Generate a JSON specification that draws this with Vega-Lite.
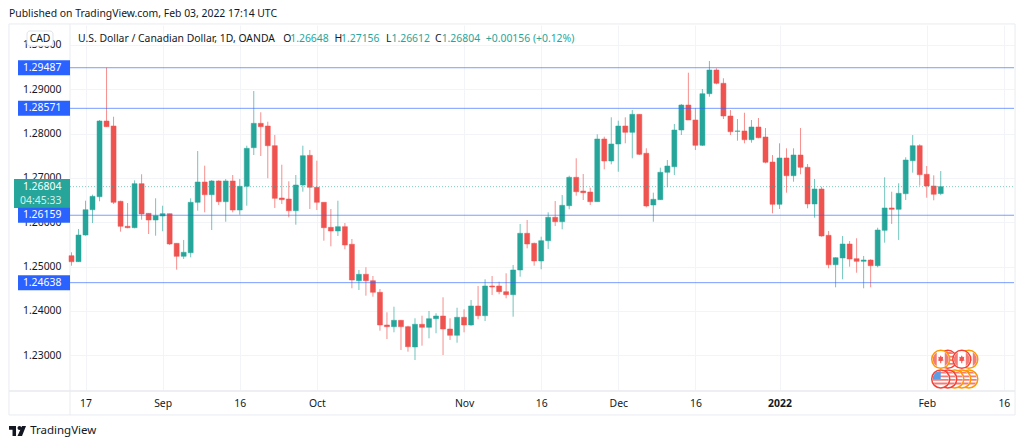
{"$schema":"https://vega.github.io/schema/vega-lite/v6.json","autosize":{"type":"none"},"width":944,"height":366,"padding":{"left":70,"top":25,"right":10,"bottom":56},"background":"white",
"config":{"axis":{"title":null},"view":{"stroke":null},"text":{"font":"Noto Sans","fontSize":10.4,"baseline":"middle","align":"left","color":"#131722"}},
"data":{"name":"candles","values":[
{"i":0,"date":"2021-08-13","o":1.25246,"h":1.25323,"l":1.25021,"c":1.25111},
{"i":1,"date":"2021-08-16","o":1.25111,"h":1.25849,"l":1.25104,"c":1.25713},
{"i":2,"date":"2021-08-17","o":1.25713,"h":1.26487,"l":1.25698,"c":1.26284},
{"i":3,"date":"2021-08-18","o":1.26284,"h":1.26623,"l":1.25984,"c":1.26586},
{"i":4,"date":"2021-08-19","o":1.26577,"h":1.28308,"l":1.26474,"c":1.28285},
{"i":5,"date":"2021-08-20","o":1.28285,"h":1.29488,"l":1.2815,"c":1.28157},
{"i":6,"date":"2021-08-23","o":1.28172,"h":1.28382,"l":1.26413,"c":1.26451},
{"i":7,"date":"2021-08-24","o":1.26474,"h":1.26487,"l":1.25788,"c":1.2591},
{"i":8,"date":"2021-08-25","o":1.2591,"h":1.26435,"l":1.25865,"c":1.25878},
{"i":9,"date":"2021-08-26","o":1.25878,"h":1.26947,"l":1.25865,"c":1.26871},
{"i":10,"date":"2021-08-27","o":1.26871,"h":1.27083,"l":1.26059,"c":1.26187},
{"i":11,"date":"2021-08-30","o":1.26203,"h":1.26203,"l":1.25736,"c":1.26052},
{"i":12,"date":"2021-08-31","o":1.26052,"h":1.26541,"l":1.25698,"c":1.26149},
{"i":13,"date":"2021-09-01","o":1.26142,"h":1.26374,"l":1.25797,"c":1.26194},
{"i":14,"date":"2021-09-02","o":1.26194,"h":1.26194,"l":1.25488,"c":1.2551},
{"i":15,"date":"2021-09-03","o":1.25526,"h":1.25526,"l":1.24931,"c":1.25233},
{"i":16,"date":"2021-09-06","o":1.25233,"h":1.25601,"l":1.25172,"c":1.25323},
{"i":17,"date":"2021-09-07","o":1.25314,"h":1.26541,"l":1.2521,"c":1.26451},
{"i":18,"date":"2021-09-08","o":1.26451,"h":1.27608,"l":1.26262,"c":1.26909},
{"i":19,"date":"2021-09-09","o":1.26909,"h":1.27277,"l":1.26225,"c":1.26623},
{"i":20,"date":"2021-09-10","o":1.26623,"h":1.26954,"l":1.25826,"c":1.26932},
{"i":21,"date":"2021-09-13","o":1.26932,"h":1.26947,"l":1.2639,"c":1.26465},
{"i":22,"date":"2021-09-14","o":1.26465,"h":1.26977,"l":1.26013,"c":1.26932},
{"i":23,"date":"2021-09-15","o":1.26932,"h":1.27067,"l":1.26225,"c":1.26277},
{"i":24,"date":"2021-09-16","o":1.26277,"h":1.26977,"l":1.26171,"c":1.26812},
{"i":25,"date":"2021-09-17","o":1.26812,"h":1.27728,"l":1.26374,"c":1.27669},
{"i":26,"date":"2021-09-20","o":1.27683,"h":1.28962,"l":1.27518,"c":1.28233},
{"i":27,"date":"2021-09-21","o":1.28233,"h":1.28482,"l":1.27496,"c":1.28157},
{"i":28,"date":"2021-09-22","o":1.28172,"h":1.28269,"l":1.26993,"c":1.27728},
{"i":29,"date":"2021-09-23","o":1.27728,"h":1.27969,"l":1.26323,"c":1.26541},
{"i":30,"date":"2021-09-24","o":1.26548,"h":1.27299,"l":1.26413,"c":1.2651},
{"i":31,"date":"2021-09-27","o":1.26526,"h":1.26925,"l":1.26113,"c":1.26262},
{"i":32,"date":"2021-09-28","o":1.26262,"h":1.27067,"l":1.25946,"c":1.26841},
{"i":33,"date":"2021-09-29","o":1.26841,"h":1.27728,"l":1.2669,"c":1.27502},
{"i":34,"date":"2021-09-30","o":1.27511,"h":1.27631,"l":1.263,"c":1.2679},
{"i":35,"date":"2021-10-01","o":1.2679,"h":1.2739,"l":1.26277,"c":1.26451},
{"i":36,"date":"2021-10-04","o":1.26451,"h":1.26451,"l":1.25585,"c":1.25878},
{"i":37,"date":"2021-10-05","o":1.25887,"h":1.263,"l":1.25458,"c":1.25804},
{"i":38,"date":"2021-10-06","o":1.25804,"h":1.26487,"l":1.25691,"c":1.25901},
{"i":39,"date":"2021-10-07","o":1.25901,"h":1.25984,"l":1.25391,"c":1.25488},
{"i":40,"date":"2021-10-08","o":1.25504,"h":1.25623,"l":1.24511,"c":1.24698},
{"i":41,"date":"2021-10-11","o":1.24682,"h":1.24924,"l":1.24473,"c":1.24827},
{"i":42,"date":"2021-10-12","o":1.24827,"h":1.24985,"l":1.24344,"c":1.24682},
{"i":43,"date":"2021-10-13","o":1.24682,"h":1.24788,"l":1.24321,"c":1.24421},
{"i":44,"date":"2021-10-14","o":1.24421,"h":1.24495,"l":1.23554,"c":1.23683},
{"i":45,"date":"2021-10-15","o":1.23683,"h":1.23969,"l":1.23367,"c":1.23645},
{"i":46,"date":"2021-10-18","o":1.23645,"h":1.24096,"l":1.23518,"c":1.23789},
{"i":47,"date":"2021-10-19","o":1.23789,"h":1.23796,"l":1.23119,"c":1.23645},
{"i":48,"date":"2021-10-20","o":1.23645,"h":1.23667,"l":1.23081,"c":1.23193},
{"i":49,"date":"2021-10-21","o":1.23187,"h":1.23834,"l":1.22893,"c":1.23699},
{"i":50,"date":"2021-10-22","o":1.23699,"h":1.23893,"l":1.23216,"c":1.23631},
{"i":51,"date":"2021-10-25","o":1.23631,"h":1.23999,"l":1.23383,"c":1.23825},
{"i":52,"date":"2021-10-26","o":1.23825,"h":1.23947,"l":1.23496,"c":1.23886},
{"i":53,"date":"2021-10-27","o":1.23886,"h":1.24308,"l":1.23006,"c":1.23593},
{"i":54,"date":"2021-10-28","o":1.23593,"h":1.23834,"l":1.23345,"c":1.23451},
{"i":55,"date":"2021-10-29","o":1.23451,"h":1.24073,"l":1.23284,"c":1.23857},
{"i":56,"date":"2021-11-01","o":1.23857,"h":1.24037,"l":1.23518,"c":1.23683},
{"i":57,"date":"2021-11-02","o":1.23683,"h":1.24247,"l":1.23667,"c":1.24112},
{"i":58,"date":"2021-11-03","o":1.24112,"h":1.24563,"l":1.23812,"c":1.23893},
{"i":59,"date":"2021-11-04","o":1.23893,"h":1.24714,"l":1.23773,"c":1.24563},
{"i":60,"date":"2021-11-05","o":1.24563,"h":1.24788,"l":1.2436,"c":1.2454},
{"i":61,"date":"2021-11-08","o":1.24563,"h":1.2466,"l":1.24376,"c":1.24434},
{"i":62,"date":"2021-11-09","o":1.24434,"h":1.24849,"l":1.24285,"c":1.24367},
{"i":63,"date":"2021-11-10","o":1.24367,"h":1.25037,"l":1.2387,"c":1.24924},
{"i":64,"date":"2021-11-11","o":1.24924,"h":1.25962,"l":1.24773,"c":1.25752},
{"i":65,"date":"2021-11-12","o":1.25752,"h":1.26052,"l":1.25413,"c":1.2551},
{"i":66,"date":"2021-11-15","o":1.25526,"h":1.2554,"l":1.25021,"c":1.25127},
{"i":67,"date":"2021-11-16","o":1.25127,"h":1.25675,"l":1.2494,"c":1.25585},
{"i":68,"date":"2021-11-17","o":1.25585,"h":1.26225,"l":1.25398,"c":1.26113},
{"i":69,"date":"2021-11-18","o":1.26113,"h":1.2648,"l":1.25916,"c":1.26013},
{"i":70,"date":"2021-11-19","o":1.26013,"h":1.26616,"l":1.25842,"c":1.26383},
{"i":71,"date":"2021-11-22","o":1.26374,"h":1.27051,"l":1.26293,"c":1.27015},
{"i":72,"date":"2021-11-23","o":1.27015,"h":1.27444,"l":1.266,"c":1.2669},
{"i":73,"date":"2021-11-24","o":1.26706,"h":1.2709,"l":1.26503,"c":1.26668},
{"i":74,"date":"2021-11-25","o":1.26683,"h":1.2678,"l":1.2639,"c":1.26465},
{"i":75,"date":"2021-11-26","o":1.26465,"h":1.27985,"l":1.26465,"c":1.27879},
{"i":76,"date":"2021-11-29","o":1.27879,"h":1.27931,"l":1.27196,"c":1.27383},
{"i":77,"date":"2021-11-30","o":1.27383,"h":1.28369,"l":1.27308,"c":1.27766},
{"i":78,"date":"2021-12-01","o":1.27766,"h":1.28292,"l":1.27141,"c":1.28172},
{"i":79,"date":"2021-12-02","o":1.28172,"h":1.28369,"l":1.27782,"c":1.2803},
{"i":80,"date":"2021-12-03","o":1.2803,"h":1.28533,"l":1.27444,"c":1.28436},
{"i":81,"date":"2021-12-06","o":1.28436,"h":1.28436,"l":1.27518,"c":1.27534},
{"i":82,"date":"2021-12-07","o":1.27557,"h":1.27669,"l":1.26338,"c":1.26368},
{"i":83,"date":"2021-12-08","o":1.2639,"h":1.26668,"l":1.26013,"c":1.26519},
{"i":84,"date":"2021-12-09","o":1.2651,"h":1.27232,"l":1.26503,"c":1.27128},
{"i":85,"date":"2021-12-10","o":1.27128,"h":1.27405,"l":1.2679,"c":1.2727},
{"i":86,"date":"2021-12-13","o":1.27254,"h":1.28218,"l":1.27067,"c":1.28082},
{"i":87,"date":"2021-12-14","o":1.28082,"h":1.28669,"l":1.27969,"c":1.28646},
{"i":88,"date":"2021-12-15","o":1.28646,"h":1.29375,"l":1.28308,"c":1.28308},
{"i":89,"date":"2021-12-16","o":1.28308,"h":1.28572,"l":1.27631,"c":1.27737},
{"i":90,"date":"2021-12-17","o":1.27737,"h":1.29007,"l":1.27721,"c":1.28901},
{"i":91,"date":"2021-12-20","o":1.28901,"h":1.29639,"l":1.28833,"c":1.29436},
{"i":92,"date":"2021-12-21","o":1.29436,"h":1.29474,"l":1.29113,"c":1.29136},
{"i":93,"date":"2021-12-22","o":1.29136,"h":1.29249,"l":1.2833,"c":1.28398},
{"i":94,"date":"2021-12-23","o":1.28398,"h":1.28533,"l":1.27969,"c":1.28044},
{"i":95,"date":"2021-12-24","o":1.28053,"h":1.2833,"l":1.27841,"c":1.2806},
{"i":96,"date":"2021-12-27","o":1.2806,"h":1.28472,"l":1.27782,"c":1.27863},
{"i":97,"date":"2021-12-28","o":1.27863,"h":1.28308,"l":1.27796,"c":1.2815},
{"i":98,"date":"2021-12-29","o":1.2815,"h":1.28353,"l":1.27895,"c":1.27908},
{"i":99,"date":"2021-12-30","o":1.27924,"h":1.28127,"l":1.27331,"c":1.27354},
{"i":100,"date":"2021-12-31","o":1.2736,"h":1.27518,"l":1.26203,"c":1.26406},
{"i":101,"date":"2022-01-03","o":1.26406,"h":1.27782,"l":1.263,"c":1.27451},
{"i":102,"date":"2022-01-04","o":1.27451,"h":1.27669,"l":1.26668,"c":1.27051},
{"i":103,"date":"2022-01-05","o":1.27051,"h":1.27669,"l":1.26916,"c":1.27518},
{"i":104,"date":"2022-01-06","o":1.27518,"h":1.28127,"l":1.27083,"c":1.27241},
{"i":105,"date":"2022-01-07","o":1.27241,"h":1.27315,"l":1.26316,"c":1.26413},
{"i":106,"date":"2022-01-10","o":1.26413,"h":1.26977,"l":1.26104,"c":1.26751},
{"i":107,"date":"2022-01-11","o":1.26751,"h":1.26803,"l":1.25675,"c":1.25691},
{"i":108,"date":"2022-01-12","o":1.25707,"h":1.25804,"l":1.24962,"c":1.25043},
{"i":109,"date":"2022-01-13","o":1.25043,"h":1.2521,"l":1.24533,"c":1.25201},
{"i":110,"date":"2022-01-14","o":1.25195,"h":1.25691,"l":1.24714,"c":1.2551},
{"i":111,"date":"2022-01-17","o":1.2551,"h":1.25578,"l":1.24998,"c":1.25172},
{"i":112,"date":"2022-01-18","o":1.25179,"h":1.25639,"l":1.24863,"c":1.2512},
{"i":113,"date":"2022-01-19","o":1.2512,"h":1.2524,"l":1.24511,"c":1.25149},
{"i":114,"date":"2022-01-20","o":1.25149,"h":1.25165,"l":1.24533,"c":1.25021},
{"i":115,"date":"2022-01-21","o":1.25021,"h":1.25878,"l":1.24985,"c":1.25826},
{"i":116,"date":"2022-01-24","o":1.25819,"h":1.27015,"l":1.2554,"c":1.26323},
{"i":117,"date":"2022-01-25","o":1.26323,"h":1.2669,"l":1.25962,"c":1.26293},
{"i":118,"date":"2022-01-26","o":1.26293,"h":1.2688,"l":1.25601,"c":1.26654},
{"i":119,"date":"2022-01-27","o":1.26645,"h":1.27466,"l":1.26503,"c":1.27405},
{"i":120,"date":"2022-01-28","o":1.2739,"h":1.27969,"l":1.27119,"c":1.27728},
{"i":121,"date":"2022-01-31","o":1.27728,"h":1.2776,"l":1.26826,"c":1.27074},
{"i":122,"date":"2022-02-01","o":1.27083,"h":1.2727,"l":1.26555,"c":1.26819},
{"i":123,"date":"2022-02-02","o":1.26819,"h":1.2706,"l":1.26496,"c":1.26632},
{"i":124,"date":"2022-02-03","o":1.26648,"h":1.27156,"l":1.26612,"c":1.26804}
]},
"layer":[
{"mark":{"type":"rule","opacity":0},"encoding":{
"x":{"field":"i","type":"quantitative","scale":{"domain":[-0.214,134.45],"nice":false,"zero":false,"padding":0},"axis":{"values":[2,13,24,35,56,67,78,89,101,122,133],"labelExpr":"{'2':'17','13':'Sep','24':'16','35':'Oct','56':'Nov','67':'16','78':'Dec','89':'16','101':'2022','122':'Feb','133':'16'}[datum.value]","labelFont":"Noto Sans","labelFontSize":10.4,"labelColor":"#131722","labelPadding":7,"tickSize":0,"domain":false,"grid":true,"gridColor":"#f3f4f7","labelFontWeight":{"condition":{"test":"datum.value==101","value":"bold"},"value":"normal"}}},
"y":{"field":"l","type":"quantitative","scale":{"domain":[1.22194,1.30451],"nice":false,"zero":false},"axis":{"values":[1.23,1.24,1.25,1.26,1.27,1.28,1.29,1.3],"format":".5f","labelFont":"Noto Sans","labelFontSize":10.4,"labelColor":"#131722","labelPadding":9,"tickSize":0,"domain":false,"grid":true,"gridColor":"#f3f4f7"}}}},
{"data":{"values":[{}]},"mark":{"type":"rule","color":"#e9ebf0","strokeWidth":1},"encoding":{"x":{"datum":-8.92,"type":"quantitative"},"x2":{"datum":134.6},"y":{"datum":1.30474,"type":"quantitative"}}},
{"data":{"values":[{}]},"mark":{"type":"rule","color":"#e9ebf0","strokeWidth":1},"encoding":{"x":{"datum":-8.92,"type":"quantitative"},"x2":{"datum":134.6},"y":{"datum":1.21653,"type":"quantitative"}}},
{"data":{"values":[{}]},"mark":{"type":"rule","color":"#edeff3","strokeWidth":2},"encoding":{"x":{"datum":-8.92,"type":"quantitative"},"x2":{"datum":134.6},"y":{"datum":1.22194,"type":"quantitative"}}},
{"data":{"values":[{}]},"mark":{"type":"rule","color":"#e9ebf0","strokeWidth":1},"encoding":{"x":{"datum":-8.92,"type":"quantitative"},"y":{"datum":1.30474,"type":"quantitative"},"y2":{"datum":1.21653}}},
{"data":{"values":[{}]},"mark":{"type":"rule","color":"#e9ebf0","strokeWidth":1},"encoding":{"x":{"datum":-0.214,"type":"quantitative"},"y":{"datum":1.30474,"type":"quantitative"},"y2":{"datum":1.21653}}},
{"data":{"values":[{}]},"mark":{"type":"rule","color":"#e9ebf0","strokeWidth":1},"encoding":{"x":{"datum":134.6,"type":"quantitative"},"y":{"datum":1.30474,"type":"quantitative"},"y2":{"datum":1.21653}}},
{"mark":{"type":"rule","strokeWidth":1,"opacity":0.65},"encoding":{"x":{"field":"i","type":"quantitative"},"y":{"field":"l","type":"quantitative"},"y2":{"field":"h"},"color":{"condition":{"test":"datum.c>=datum.o","value":"#26a69a"},"value":"#ef5350"}}},
{"mark":{"type":"bar","size":5,"strokeWidth":0.5},"encoding":{"x":{"field":"i","type":"quantitative"},"y":{"field":"o","type":"quantitative"},"y2":{"field":"c"},"fill":{"condition":{"test":"datum.c>=datum.o","value":"#26a69a"},"value":"#ef5350"},"stroke":{"condition":{"test":"datum.c>=datum.o","value":"#26a69a"},"value":"#ef5350"}}},
{"data":{"values":[{"level":1.26804}]},"mark":{"type":"rule","color":"#26a69a","strokeWidth":1,"strokeDash":[1,2],"opacity":0.6},"encoding":{"x":{"datum":-0.214,"type":"quantitative"},"x2":{"datum":134.45},"y":{"field":"level","type":"quantitative"}}},
{"data":{"values":[{"level":1.29487},{"level":1.28571},{"level":1.26159},{"level":1.24638}]},"mark":{"type":"rule","color":"#2962ff","strokeWidth":1,"opacity":0.62},"encoding":{"x":{"datum":-0.214,"type":"quantitative"},"x2":{"datum":134.45},"y":{"field":"level","type":"quantitative"}}},
{"data":{"values":[{"last":1.2665}]},"mark":{"type":"rule","color":"#26a69a","strokeWidth":29},"encoding":{"x":{"datum":-8.2,"type":"quantitative"},"x2":{"datum":-0.214},"y":{"field":"last","type":"quantitative"}}},
{"data":{"values":[{"level":1.29487},{"level":1.28571},{"level":1.26159},{"level":1.24638}]},"mark":{"type":"rule","color":"#2962ff","strokeWidth":15},"encoding":{"x":{"datum":-7.63,"type":"quantitative"},"x2":{"datum":-0.214},"y":{"field":"level","type":"quantitative"}}},
{"data":{"values":[{"level":1.29487},{"level":1.28571},{"level":1.26159},{"level":1.24638},{"level":1.26804}]},"mark":{"type":"text","align":"right","color":"white"},"encoding":{"x":{"datum":-1.45,"type":"quantitative"},"y":{"field":"level","type":"quantitative"},"text":{"field":"level","format":".5f"}}},
{"data":{"values":[{"level":1.26804}]},"mark":{"type":"text","align":"right","color":"#d6f0ec","dy":14},"encoding":{"x":{"datum":-1.45,"type":"quantitative"},"y":{"field":"level","type":"quantitative"},"text":{"value":"04:45:33"}}},
{"data":{"values":[{}]},"mark":{"type":"rect","fill":"white","stroke":"#e0e3eb","strokeWidth":1,"cornerRadius":3},"encoding":{"x":{"datum":-6.35,"type":"quantitative"},"x2":{"datum":-2.64},"y":{"datum":1.30316,"type":"quantitative"},"y2":{"datum":1.29977}}},
{"data":{"values":[{}]},"mark":{"type":"text","align":"center"},"encoding":{"x":{"datum":-4.49,"type":"quantitative"},"y":{"datum":1.30146,"type":"quantitative"},"text":{"value":"CAD"}}},
{"data":{"values":[{}]},"mark":{"type":"text"},"encoding":{"x":{"datum":-8.92,"type":"quantitative"},"y":{"datum":1.30699,"type":"quantitative"},"text":{"value":"Published on TradingView.com, Feb 03, 2022 17:14 UTC"}}},
{"data":{"values":[{}]},"mark":{"type":"text"},"encoding":{"x":{"datum":0.93,"type":"quantitative"},"y":{"datum":1.30146,"type":"quantitative"},"text":{"value":"U.S. Dollar / Canadian Dollar, 1D, OANDA"}}},
{"data":{"values":[{"t":"O"}]},"mark":{"type":"text"},"encoding":{"x":{"datum":30.2,"type":"quantitative"},"y":{"datum":1.30146,"type":"quantitative"},"text":{"field":"t"}}},
{"data":{"values":[{"t":1.26648}]},"mark":{"type":"text","color":"#26a69a"},"encoding":{"x":{"datum":31.2,"type":"quantitative"},"y":{"datum":1.30146,"type":"quantitative"},"text":{"field":"t","format":".5f"}}},
{"data":{"values":[{"t":"H"}]},"mark":{"type":"text"},"encoding":{"x":{"datum":37.5,"type":"quantitative"},"y":{"datum":1.30146,"type":"quantitative"},"text":{"field":"t"}}},
{"data":{"values":[{"t":1.27156}]},"mark":{"type":"text","color":"#26a69a"},"encoding":{"x":{"datum":38.45,"type":"quantitative"},"y":{"datum":1.30146,"type":"quantitative"},"text":{"field":"t","format":".5f"}}},
{"data":{"values":[{"t":"L"}]},"mark":{"type":"text"},"encoding":{"x":{"datum":44.85,"type":"quantitative"},"y":{"datum":1.30146,"type":"quantitative"},"text":{"field":"t"}}},
{"data":{"values":[{"t":1.26612}]},"mark":{"type":"text","color":"#26a69a"},"encoding":{"x":{"datum":45.65,"type":"quantitative"},"y":{"datum":1.30146,"type":"quantitative"},"text":{"field":"t","format":".5f"}}},
{"data":{"values":[{"t":"C"}]},"mark":{"type":"text"},"encoding":{"x":{"datum":51.85,"type":"quantitative"},"y":{"datum":1.30146,"type":"quantitative"},"text":{"field":"t"}}},
{"data":{"values":[{"t":1.26804}]},"mark":{"type":"text","color":"#26a69a"},"encoding":{"x":{"datum":52.8,"type":"quantitative"},"y":{"datum":1.30146,"type":"quantitative"},"text":{"field":"t","format":".5f"}}},
{"data":{"values":[{"t":"+0.00156 (+0.12%)"}]},"mark":{"type":"text","color":"#26a69a"},"encoding":{"x":{"datum":59.1,"type":"quantitative"},"y":{"datum":1.30146,"type":"quantitative"},"text":{"field":"t"}}},
{"data":{"values":[{}]},"mark":{"type":"text","fontSize":11.5},"encoding":{"x":{"datum":-5.9,"type":"quantitative"},"y":{"datum":1.21292,"type":"quantitative"},"text":{"value":"TradingView"}}},
{"data":{"values":[{}]},"mark":{"type":"point","filled":true,"color":"#131722","opacity":1,"size":4},"encoding":{"x":{"datum":-7.7,"type":"quantitative"},"y":{"datum":1.21292,"type":"quantitative"},"shape":{"value":"M-8.5,-5H-1.5V5H-5V-1.2H-8.5Z M2,-5A2,2 0 1 1 1.99,-5Z M4.5,-5H8.5L4.5,5H0Z"}}},
{"data":{"values":[
{"i":128,"price":1.22909,"part":"ring orange"},{"i":128,"price":1.22909,"part":"ca bars"},{"i":128,"price":1.22909,"part":"ca leaf"},
{"i":125,"price":1.22909,"part":"ring red"},{"i":125,"price":1.22909,"part":"us stripes"},{"i":125,"price":1.22909,"part":"us canton"},
{"i":127,"price":1.22909,"part":"ring red"},{"i":127,"price":1.22909,"part":"ca bars"},{"i":127,"price":1.22909,"part":"ca leaf"},
{"i":124,"price":1.22909,"part":"ring orange"},{"i":124,"price":1.22909,"part":"ca bars"},{"i":124,"price":1.22909,"part":"ca leaf"},
{"i":128,"price":1.22465,"part":"ring orange"},{"i":128,"price":1.22465,"part":"us stripes"},{"i":128,"price":1.22465,"part":"us canton"},
{"i":127,"price":1.22465,"part":"ring orange"},{"i":127,"price":1.22465,"part":"us stripes"},{"i":127,"price":1.22465,"part":"us canton"},
{"i":126,"price":1.22465,"part":"ring orange"},{"i":126,"price":1.22465,"part":"us stripes"},{"i":126,"price":1.22465,"part":"us canton"},
{"i":125,"price":1.22465,"part":"ring red"},{"i":125,"price":1.22465,"part":"us stripes"},{"i":125,"price":1.22465,"part":"us canton"},
{"i":124,"price":1.22465,"part":"ring red"},{"i":124,"price":1.22465,"part":"us stripes"},{"i":124,"price":1.22465,"part":"us canton"}
]},"mark":{"type":"point","filled":true,"opacity":1,"size":4,"strokeWidth":1.5},"encoding":{"x":{"field":"i","type":"quantitative"},"y":{"field":"price","type":"quantitative"},
"shape":{"field":"part","type":"nominal","legend":null,"scale":{"domain":["ring orange","ring red","ca bars","ca leaf","us stripes","us canton"],"range":["M-9,0A9,9 0 1 0 9,0A9,9 0 1 0 -9,0Z","M-9,0A9,9 0 1 0 9,0A9,9 0 1 0 -9,0Z","M-4,-6.9A8,8 0 0 0 -4,6.9Z M4,-6.9A8,8 0 0 1 4,6.9Z","M0,-4L1,-2L2.5,-2.5L2,0L3,1L0.5,2L0.5,4L-0.5,4L-0.5,2L-3,1L-2,0L-2.5,-2.5L-1,-2Z","M-7.1,-3.6H7.1L7.8,-1.8H-7.8Z M-8,0H8L7.8,1.8H-7.8Z M-7.1,3.6H7.1L5.9,5.4H-5.9Z M-5.9,-5.4H5.9L3.4,-7.2H-3.4Z","M0,-8A8,8 0 0 0 -8,0H0Z"]}},
"fill":{"field":"part","type":"nominal","legend":null,"scale":{"domain":["ring orange","ring red","ca bars","ca leaf","us stripes","us canton"],"range":["#ffffff","#ffffff","#f47c78","#ef5350","#f47c78","#5c9ee6"]}},
"stroke":{"field":"part","type":"nominal","legend":null,"scale":{"domain":["ring orange","ring red","ca bars","ca leaf","us stripes","us canton"],"range":["#ff9800","#f44336","transparent","transparent","transparent","transparent"]}}}}
]}
